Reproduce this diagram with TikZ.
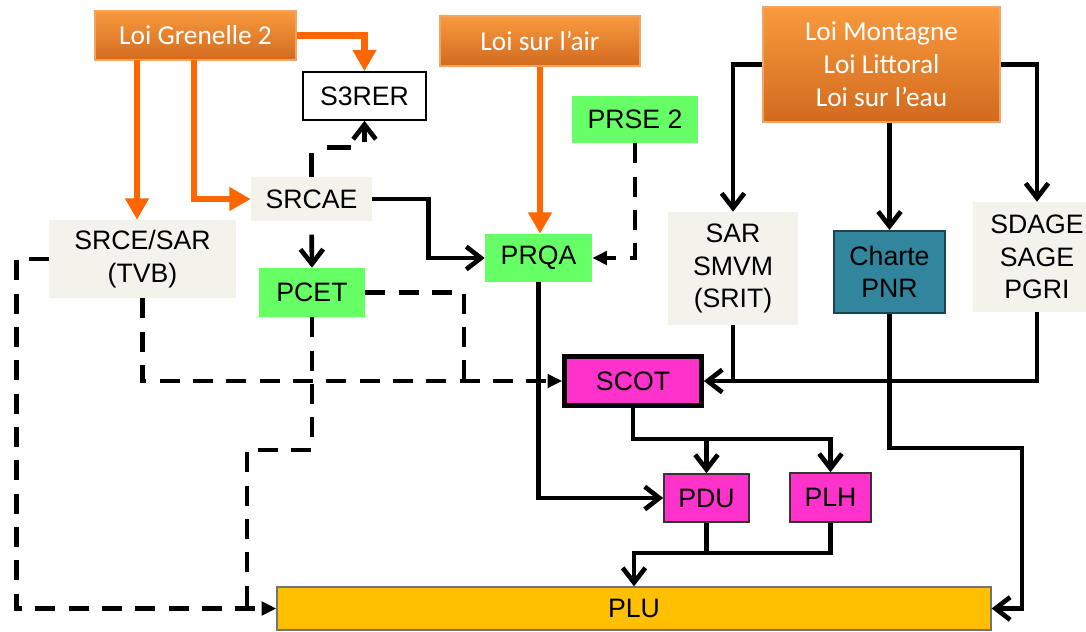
\documentclass[tikz,border=0pt]{standalone}
\usepackage{fontspec}
\setmainfont{Liberation Sans}
\newfontfamily\loifont{Carlito}
\usetikzlibrary{arrows.meta}

\definecolor{paleC}{HTML}{F3F3EC}
\definecolor{greenC}{HTML}{66FF66}
\definecolor{tealC}{HTML}{31859C}
\definecolor{tealD}{HTML}{1D4452}
\definecolor{magC}{HTML}{FF33CC}
\definecolor{pluC}{HTML}{FFC000}
\definecolor{orLine}{HTML}{FF6600}
\definecolor{orTop}{HTML}{F99A3E}
\definecolor{orBot}{HTML}{D26A1E}
\definecolor{orEdge}{HTML}{F3A463}

\begin{document}
\begin{tikzpicture}[x=0.75pt,y=-0.75pt,
  wh/.style 2 args={minimum width=#1*0.75pt, minimum height=#2*0.75pt},
  base/.style={inner sep=0pt, align=center, font=\fontsize{20}{24.5}\selectfont},
  pale/.style={base, fill=paleC},
  greenbox/.style={base, fill=greenC},
  magbox/.style={base, fill=magC, draw=black!80, line width=1.2pt},
  loi/.style={base, font=\loifont\fontsize{20.5}{24.75}\selectfont, text=white,
    top color=orTop, bottom color=orBot, draw=orEdge, line width=1pt},
  oline/.style={draw=orLine, line width=4.8pt, -{Triangle[length=16pt,width=17pt]}},
  bline/.style={line width=3.5pt},
  barrow/.style={bline, -{Straight Barb[length=11pt,width=17pt]}},
  dline/.style={line width=3.4pt, dash pattern=on 15pt off 10pt},
  darrow/.style={dline, -{Triangle[length=11pt,width=10pt]}}
]
\useasboundingbox (0,0) rectangle (1086,632);

% boxes
\node[loi, wh={201}{49}] (gren) at (195.5,35.5) {Loi Grenelle 2};
\node[base, draw, line width=1.2pt, fill=white, wh={123}{48}] (s3rer) at (364.5,96) {S3RER};
\node[pale, wh={121}{44}] (srcae) at (311.5,199) {SRCAE};
\node[pale, wh={187}{78}] (srce) at (142.5,259) {SRCE/SAR\\(TVB)};
\node[greenbox, wh={106}{49}] (pcet) at (312,292.5) {PCET};
\node[loi, wh={200}{50}] (air) at (540,41) {Loi sur l’air};
\node[greenbox, wh={126}{47}] (prse) at (635,119.5) {PRSE 2};
\node[greenbox, wh={107}{48}] (prqa) at (538.5,258) {PRQA};
\node[loi, wh={237}{115}] (mont) at (881.5,64.5) {Loi Montagne\\Loi Littoral\\Loi sur l’eau};
\node[pale, wh={130}{113}] (sar) at (733,268.5) {SAR\\SMVM\\(SRIT)};
\node[base, fill=tealC, draw=tealD, line width=1.5pt, wh={111}{82}] (charte) at (889.5,272) {Charte\\PNR};
\node[pale, wh={128}{110}] (sdage) at (1037,257) {SDAGE\\SAGE\\PGRI};
\node[base, fill=magC, draw, line width=3.5pt, wh={137}{49}] (scot) at (633,381) {SCOT};
\node[magbox, wh={85}{48}] (pdu) at (706.5,498) {PDU};
\node[magbox, wh={81}{49}] (plh) at (830.5,497.5) {PLH};
\node[base, fill=pluC, draw=black!55, line width=1pt, wh={714}{43}] (plu) at (634,608.5) {PLU};

% orange links from Loi Grenelle 2 and Loi sur l'air
\coordinate (tA) at (137,60);
\coordinate (tB) at (194,60);
\draw[oline] (gren.east) -| (s3rer.north);
\draw[oline] (tA) -- (tA |- srce.north);
\draw[oline] (tB) |- (srcae.west);
\draw[oline] (air.south) -- (air.south |- prqa.north);

% solid links
\draw[barrow] (srcae.east) -- ++(56,0) |- (prqa.west);
\draw[barrow, shorten <=10pt] (srcae.south) -- (pcet.north);
\draw[barrow, dash pattern=on 18pt off 15pt] (srcae.north) -- ++(0,-29) -| (s3rer.south);
\draw[barrow] (mont.west) -| (sar.north);
\draw[barrow] (mont.south -| charte.north) -- (charte.north);
\draw[barrow] (mont.east) -| (sdage.north);
\draw[bline] (sar.south) -- (sar.south |- scot.east);
\draw[barrow] (sdage.south) |- (scot.east);
\draw[barrow] (charte.south) |- (1022,448) |- (plu.east);
\coordinate (split) at (634,439);
\draw[barrow] (scot.south) |- (plh.north |- split) -- (plh.north);
\draw[barrow] (pdu.north |- split) -- (pdu.north);
\draw[barrow] (prqa.south) |- (pdu.west);
\coordinate (join) at (634,553);
\draw[bline] (pdu.south) -- (pdu.south |- join);
\draw[barrow] (plh.south) |- (plu.north |- join) -- (plu.north);

% dashed links
\draw[darrow] (srce.west) -- ++(-32,0) |- (plu.west);
\draw[darrow] (srce.south) |- (scot.west);
\draw[dline] (pcet.east) -| (464,381);
\draw[dline] (pcet.south) |- (247,450) -- (247,608.5);
\draw[darrow] (prse.south) |- (prqa.east);
\end{tikzpicture}
\end{document}
